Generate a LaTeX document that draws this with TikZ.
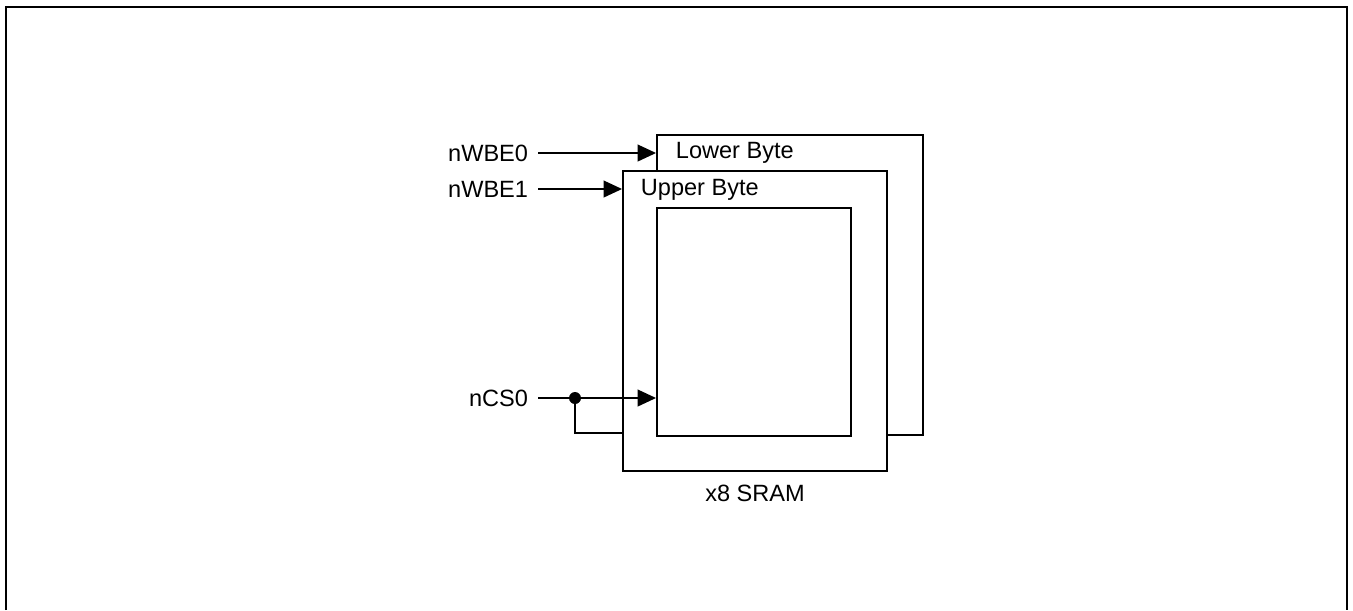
\documentclass[tikz,border=0pt]{standalone}
\usepackage{fontspec}
\setmainfont{Liberation Sans}
\usetikzlibrary{arrows.meta,positioning,calc}

\begin{document}
\begin{tikzpicture}[x=0.02cm, y=-0.02cm,
    line width=1.1pt,
    bytebox/.style={draw, fill=white, inner sep=0pt},
    sig/.style={anchor=east, inner sep=0pt, font=\fontsize{13.4}{16}\selectfont},
    lbl/.style={inner sep=0pt, font=\fontsize{13.4}{16}\selectfont},
    arr/.style={-{Triangle[length=10.5pt, width=9.5pt]}}
]
\useasboundingbox (0,0) rectangle (1353,610);
\draw[line width=1.3pt] (6,610) -- (6,7) -- (1347,7) -- (1347,610);

% memory blocks
\node[bytebox, minimum width=5.32cm, minimum height=6cm] (lower) at (790,285) {};
\node[bytebox, minimum width=5.28cm, minimum height=6cm] (upper) at (755,321) {};
\node[bytebox, minimum width=3.88cm, minimum height=4.56cm] (array) at (754,322) {};

\node[lbl, anchor=west] (lowertxt) at (675,153) {Lower Byte};
\node[lbl, anchor=west] (uppertxt) at (640,190) {Upper Byte};
\node[lbl] (sram) at (755,493) {x8 SRAM};

% signals
\node[sig] (wbe0) at (529,153) {nWBE0};
\node[sig] (wbe1) at (529,189) {nWBE1};
\node[sig] (cs0) at (529,398) {nCS0};

\coordinate (wbe0s) at (538,153);
\coordinate (wbe1s) at (538,189);
\coordinate (cs0s) at (538,398);
\coordinate (csdot) at (575,398);
\coordinate (csret) at (623,433);

\draw[arr] (wbe0s) -- (wbe0s -| lower.west);
\draw[arr] (wbe1s) -- (wbe1s -| upper.west);
\draw[arr] (cs0s) -- (cs0s -| array.west);
\draw (csdot) |- (csret);
\fill (csdot) circle (0.12cm);
\end{tikzpicture}
\end{document}
